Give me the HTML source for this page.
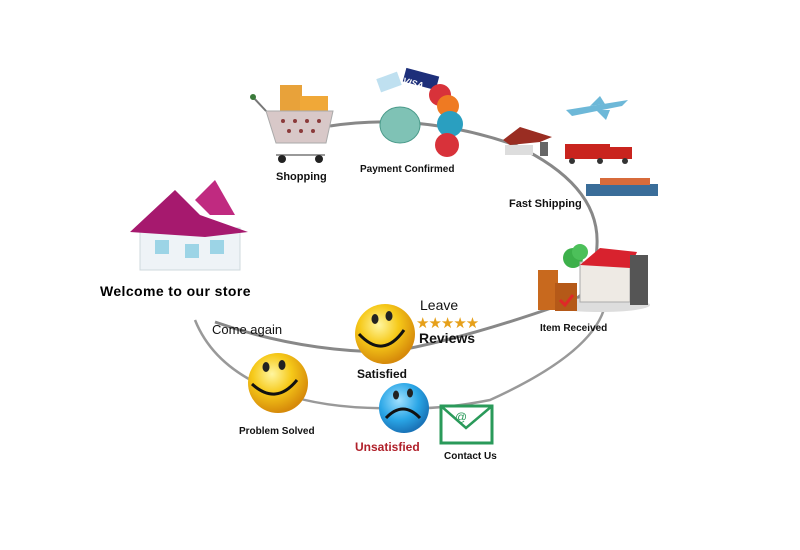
<!DOCTYPE html>
<html><head><meta charset="utf-8"><style>
body{margin:0;background:#fff;}
svg{display:block;font-family:"Liberation Sans",Arial,sans-serif;}
</style></head><body>
<svg width="800" height="550" viewBox="0 0 800 550" xmlns="http://www.w3.org/2000/svg">
<defs>
<radialGradient id="y" cx="40%" cy="35%" r="65%"><stop offset="0" stop-color="#fff6a0"/><stop offset="0.5" stop-color="#f6c919"/><stop offset="1" stop-color="#d68a0a"/></radialGradient>
<radialGradient id="b" cx="40%" cy="35%" r="65%"><stop offset="0" stop-color="#9fe0ff"/><stop offset="0.6" stop-color="#2aa6e6"/><stop offset="1" stop-color="#1a74b8"/></radialGradient>
</defs>
<path d="M330 126 Q420 112 515 145 Q600 185 597 245 Q595 300 560 305 Q460 340 390 352 Q300 352 215 322" fill="none" stroke="#888" stroke-width="3"/>
<path d="M606 300 Q600 350 490 400 Q440 410 400 408 Q330 410 280 393 Q215 370 195 320" fill="none" stroke="#999" stroke-width="2.5"/>
<!-- store house -->
<rect x="140" y="228" width="100" height="42" fill="#eef3f7" stroke="#cfd8de"/>
<polygon points="130,232 175,190 200,215 248,232 205,237" fill="#a6196e"/>
<rect x="155" y="240" width="14" height="14" fill="#9cd4e6"/><rect x="185" y="244" width="14" height="14" fill="#9cd4e6"/><rect x="210" y="240" width="14" height="14" fill="#9cd4e6"/>
<polygon points="195,200 215,180 235,215 210,215" fill="#c02a80"/>
<text x="100" y="296" font-size="14" font-weight="bold" fill="#000" letter-spacing="0.4">Welcome to our store</text>
<!-- cart -->
<rect x="280" y="85" width="22" height="28" fill="#e8a23a"/><rect x="300" y="96" width="28" height="18" fill="#f0a838"/>
<polygon points="266,111 333,111 326,143 276,143" fill="#d8c8c8" stroke="#aaa"/>
<g fill="#8b3a3a"><circle cx="283" cy="121" r="2"/><circle cx="295" cy="121" r="2"/><circle cx="307" cy="121" r="2"/><circle cx="319" cy="121" r="2"/><circle cx="289" cy="131" r="2"/><circle cx="301" cy="131" r="2"/><circle cx="313" cy="131" r="2"/></g>
<line x1="252" y1="96" x2="266" y2="111" stroke="#777" stroke-width="2"/><circle cx="253" cy="97" r="3" fill="#3a7a3a"/>
<line x1="276" y1="155" x2="325" y2="155" stroke="#999" stroke-width="2"/>
<circle cx="282" cy="159" r="4" fill="#222"/><circle cx="319" cy="159" r="4" fill="#222"/>
<text x="276" y="180" font-size="11" font-weight="bold" fill="#111">Shopping</text>
<!-- payment -->
<rect x="378" y="75" width="22" height="14" fill="#bfe0f0" transform="rotate(-20 389 82)"/>
<rect x="404" y="72" width="34" height="14" fill="#1d2f7a" transform="rotate(15 421 79)"/>
<text x="404" y="88" font-size="9" font-weight="bold" fill="#fff" font-style="italic" transform="rotate(15 421 79)">VISA</text>
<ellipse cx="400" cy="125" rx="20" ry="18" fill="#7fc2b5" stroke="#4a9a8a"/>
<circle cx="440" cy="95" r="11" fill="#d8323a"/><circle cx="448" cy="106" r="11" fill="#ef7a22"/>
<circle cx="450" cy="124" r="13" fill="#2a9fc0"/><circle cx="447" cy="145" r="12" fill="#d8323a"/>
<text x="360" y="172" font-size="10" font-weight="bold" fill="#111">Payment Confirmed</text>
<!-- shipping -->
<polygon points="503,140 520,127 552,137 540,142 510,145" fill="#9a2d22"/>
<rect x="505" y="145" width="28" height="10" fill="#ddd"/><rect x="540" y="142" width="8" height="14" fill="#666"/>
<path d="M566 110 L628 100 L622 106 L572 116 Z" fill="#6db8d8"/><path d="M590 106 L600 96 L605 104 Z M596 110 L606 120 L610 110 Z" fill="#6db8d8"/>
<rect x="565" y="144" width="45" height="15" fill="#c9241e"/><rect x="610" y="147" width="22" height="12" fill="#c9241e"/>
<circle cx="572" cy="161" r="3" fill="#333"/><circle cx="600" cy="161" r="3" fill="#333"/><circle cx="625" cy="161" r="3" fill="#333"/>
<rect x="586" y="184" width="72" height="12" fill="#3a6d99"/><rect x="600" y="178" width="50" height="7" fill="#d76b3b"/>
<text x="509" y="207" font-size="11" font-weight="bold" fill="#111">Fast Shipping</text>
<!-- item received -->
<ellipse cx="600" cy="305" rx="50" ry="7" fill="#ddd"/>
<rect x="538" y="270" width="20" height="40" fill="#c8691e"/><rect x="555" y="283" width="22" height="28" fill="#b55918"/>
<path d="M560 300 l5 5 l8 -10" stroke="#e02828" stroke-width="3" fill="none"/>
<circle cx="573" cy="258" r="10" fill="#3cb04a"/><circle cx="580" cy="252" r="8" fill="#4cc05a"/>
<rect x="580" y="262" width="50" height="40" fill="#eeeae4" stroke="#aaa"/>
<polygon points="580,265 600,248 637,252 630,268" fill="#d8222e"/>
<rect x="630" y="255" width="18" height="50" fill="#555"/>
<text x="540" y="331" font-size="10" font-weight="bold" fill="#111">Item Received</text>
<!-- satisfied -->
<circle cx="385" cy="334" r="30" fill="url(#y)"/>
<ellipse cx="375" cy="319" rx="3.5" ry="5" fill="#222"/><ellipse cx="389" cy="316" rx="3.5" ry="5" fill="#222"/>
<path d="M359 334 Q383 360 404 330" stroke="#111" stroke-width="3" fill="none"/>
<text x="420" y="310" font-size="14" fill="#111">Leave</text>
<text x="419" y="343" font-size="14" font-weight="bold" fill="#111">Reviews</text>
<text x="416" y="328" font-size="15" fill="#e6a01a" letter-spacing="-1">★★★★★</text>
<text x="357" y="378" font-size="12" font-weight="bold" fill="#111">Satisfied</text>
<text x="212" y="334" font-size="13" fill="#111">Come again</text>
<!-- problem solved -->
<circle cx="278" cy="383" r="30" fill="url(#y)"/>
<ellipse cx="266" cy="367" rx="3.5" ry="5" fill="#222"/><ellipse cx="282" cy="365" rx="3.5" ry="5" fill="#222"/>
<path d="M252 384 Q276 406 297 380" stroke="#111" stroke-width="3" fill="none"/>
<text x="239" y="434" font-size="10" font-weight="bold" fill="#111">Problem Solved</text>
<!-- unsatisfied -->
<circle cx="404" cy="408" r="25" fill="url(#b)"/>
<ellipse cx="396" cy="395" rx="3" ry="4.5" fill="#222"/><ellipse cx="410" cy="393" rx="3" ry="4.5" fill="#222"/>
<path d="M386 418 Q403 400 420 418" stroke="#111" stroke-width="3" fill="none"/>
<text x="355" y="451" font-size="12" font-weight="bold" fill="#b0202a">Unsatisfied</text>
<!-- contact -->
<rect x="441" y="406" width="51" height="37" fill="#fff" stroke="#2a9a5a" stroke-width="3"/>
<path d="M441 406 L466 428 L492 406" stroke="#2a9a5a" stroke-width="2.5" fill="none"/>
<text x="461" y="421" font-size="12" fill="#2a9a5a" text-anchor="middle">@</text>
<text x="444" y="459" font-size="10" font-weight="bold" fill="#111">Contact Us</text>
</svg>
</body></html>
